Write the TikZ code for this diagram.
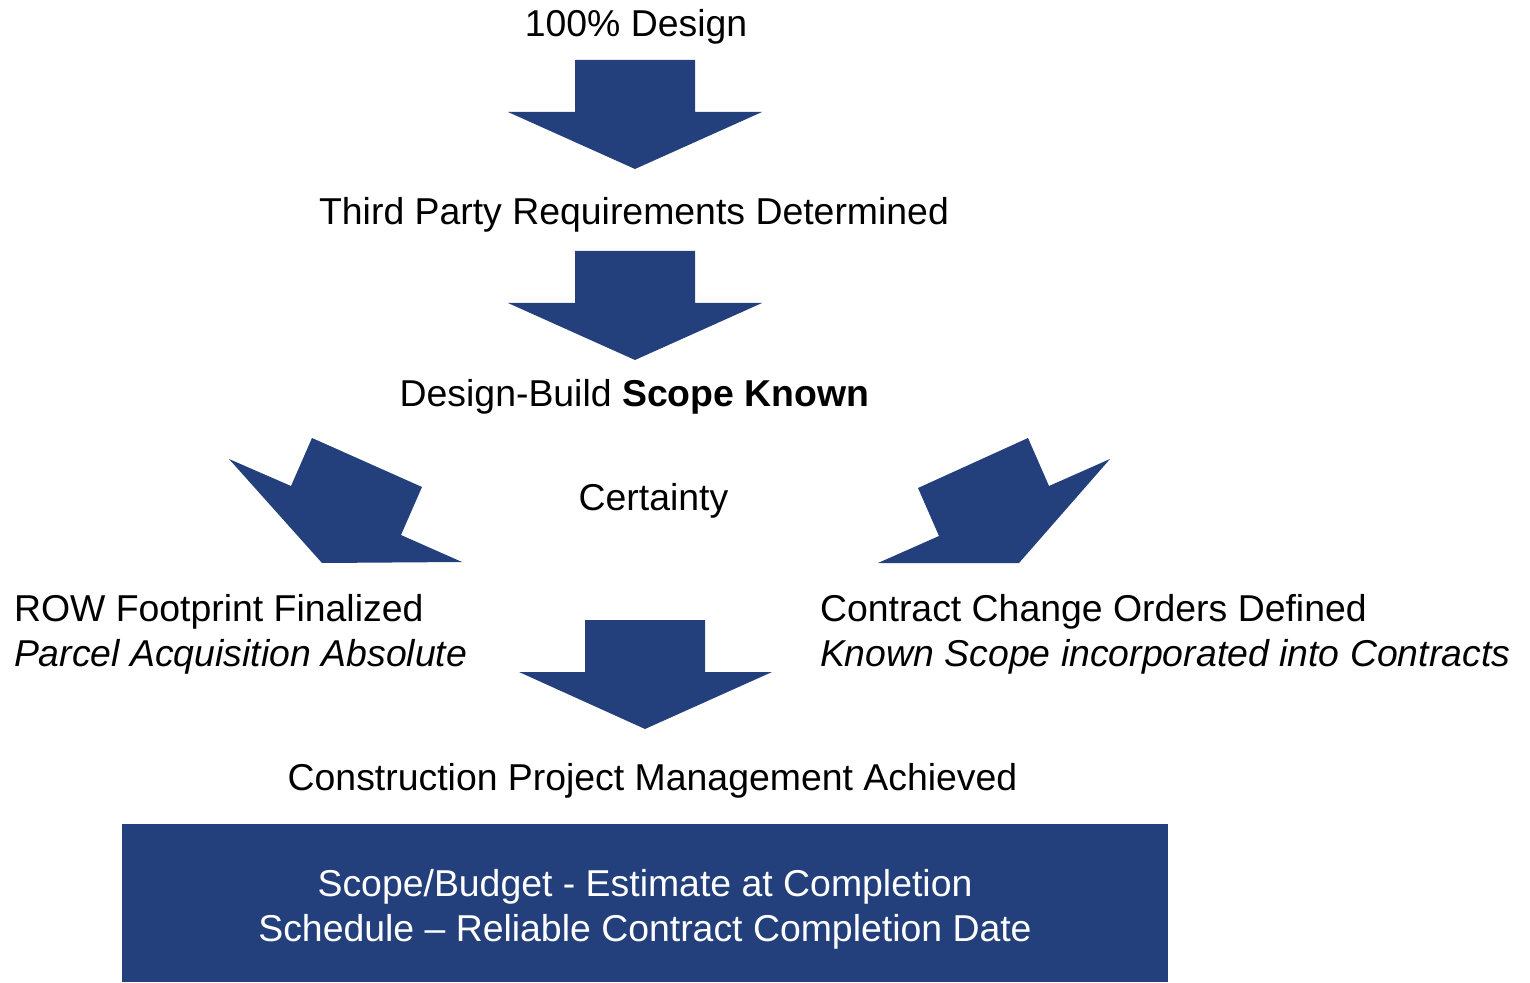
\documentclass[tikz,border=0pt]{standalone}
\usepackage{fontspec}
\setmainfont{Liberation Sans}
\usetikzlibrary{positioning}

\definecolor{arrowColor}{RGB}{35,64,124}
\tikzset{
  steptext/.style={text=black,anchor=base,inner sep=0pt,outer sep=0pt,font=\fontsize{18.7}{22.5}\selectfont},
  sidetext/.style={steptext,anchor=base west,align=left},
  blockarrow/.style={fill=arrowColor,draw=none}
}

\begin{document}
\begin{tikzpicture}[x=0.5pt,y=-0.5pt]
\path[use as bounding box,fill=white] (0,0) rectangle (1530,983);

% texts
\node[steptext] (design) at (636,36.5) {100\% Design};
\node[steptext] (thirdparty) at (634,225) {Third Party Requirements Determined};
\node[steptext] (scope) at (634.5,407) {Design-Build \textbf{Scope Known}};
\node[steptext] (certainty) at (653.5,510) {Certainty};
\node[sidetext] (row) at (14,621.5) {ROW Footprint Finalized};
\node[sidetext] (parcel) at (14,666.5) {\textit{Parcel Acquisition Absolute}};
\node[sidetext] (change) at (820,621.5) {Contract Change Orders Defined};
\node[sidetext] (known) at (820,666.5) {\textit{Known Scope incorporated into Contracts}};
\node[steptext] (achieved) at (652.5,790) {Construction Project Management Achieved};

% block arrows
\path[blockarrow] (575,60) -- (695,60) -- (695,112) -- (762,112) -- (635,169) --
	(508,112) -- (575,112) -- cycle;
\path[blockarrow] (575,251) -- (695,251) -- (695,303) -- (762,303) -- (635,360) --
	(508,303) -- (575,303) -- cycle;
\path[blockarrow] (585,620) -- (705,620) -- (705,672) -- (772,672) -- (645,729) --
	(519,672) -- (585,672) -- cycle;
\path[blockarrow] (312,438) -- (422,487) -- (401,535) -- (462,562) -- (322,563) --
	(229,459) -- (291,486) -- cycle;
\path[blockarrow] (1028,438) -- (1049,486) -- (1110,459) -- (1019,563) -- (878,563) --
	(939,536) -- (918,488) -- cycle;

% result box
\node[fill=arrowColor,inner sep=0pt,outer sep=0pt,minimum width=523pt,minimum height=79pt] (result) at (645,903) {};
\node[text=white,inner sep=0pt,align=center,font=\fontsize{18.7}{22.5}\selectfont] (resulttext) at ([yshift=-3pt]result.center) {Scope/Budget - Estimate at Completion\\Schedule -- Reliable Contract Completion Date};
\end{tikzpicture}
\end{document}
